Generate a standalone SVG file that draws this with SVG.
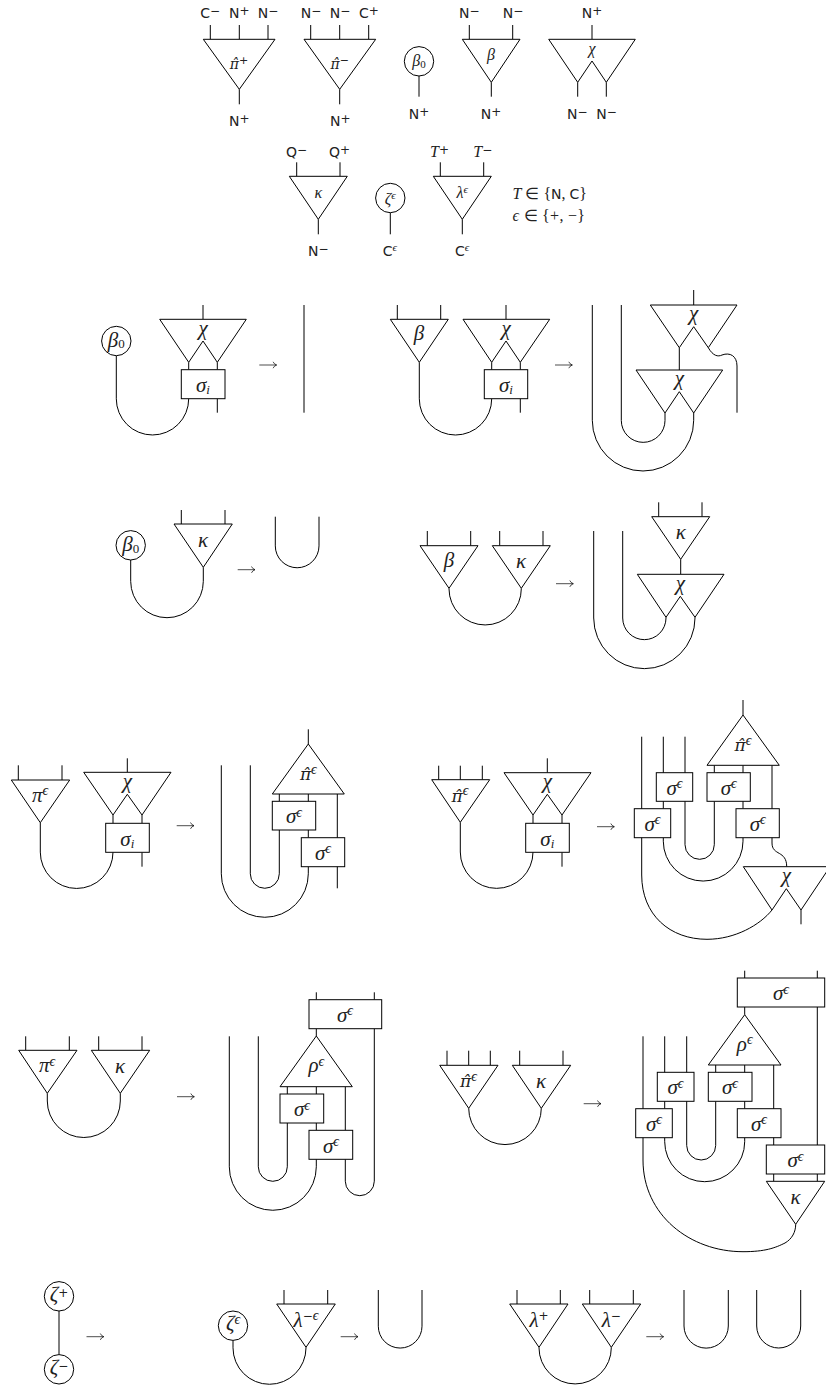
<svg xmlns="http://www.w3.org/2000/svg" width="826" height="1392" viewBox="0 0 826 1392">
<style>
.w{fill:none;stroke:#000;stroke-width:1}
.n{fill:#fff;stroke:#000;stroke-width:1;stroke-linejoin:miter}
.ar{fill:none;stroke:#000;stroke-width:.7}
text{fill:#222}
.s{font-family:"DejaVu Sans",sans-serif;font-size:14px}
.s tspan{font-size:12px}
.s tspan.e{font-family:"Liberation Serif",serif;font-style:italic;font-size:11px}
.m{font-family:"Liberation Serif",serif;font-size:21px;font-style:italic;text-anchor:middle}
.k{font-family:"Liberation Serif",serif;font-size:16px;font-style:italic;text-anchor:middle}
.r{font-family:"Liberation Serif",serif;font-size:16px}
.p{font-family:"DejaVu Sans",sans-serif;font-style:normal;font-size:12px}
.e{font-size:14px}
.b{font-size:13px}
.z{font-style:normal;font-size:13px}
.k .p{font-size:11px}
.k .e{font-size:11px}
.k .z{font-size:11px}
.m .h{font-family:"DejaVu Serif",serif;font-size:17px}
.k .h{font-family:"DejaVu Serif",serif;font-size:14px}
.u{font-family:"DejaVu Sans",sans-serif;font-style:normal}
</style>
<defs><g id="arr" class="ar"><path d="M0 0H17.3M13.8 -3.2Q14.6 -1 17.3 0Q14.6 1 13.8 3.2"/></g></defs>
<g id="connectors" class="w">
<path d="M210.3 25V39.3M239.3 25V39.3M268 25V39.3M239.3 89.3V104.3"/>
<path d="M310.7 25V39.3M339.7 25V39.3M368.7 25V39.3M339.7 89.3V104.3"/>
<path d="M419 76V96.7"/>
<path d="M469.3 25V39.3M512.7 25V39.3M491.3 82.3V96.7"/>
<path d="M592 25V39.3M577.7 82.3V96.7M606.3 82.3V96.7"/>
<path d="M296.7 162.3V176.3M340 162.3V176.3M318.3 219.3V234.3"/>
<path d="M390.3 212.7V234.3"/>
<path d="M440.3 162.3V176.3M483.7 162.3V176.3M462.3 219.3V234.3"/>

<path d="M203 305V319.3M188.7 362.3V369.7M217.3 362.3V369.7M217.3 398.7V412.7"/>
<path d="M116.3 355.7V398.8A36.2 36.2 0 0 0 188.7 398.8"/>
<path d="M304 305V412.7"/>
<path d="M397.3 305V319.3M440.7 305V319.3M506 305V319.3M491.7 362.3V369.7M520.3 362.3V369.7M520.3 398.7V412.7"/>
<path d="M419.3 362.3V398.8A36.2 36.2 0 0 0 491.7 398.8"/>
<path d="M693.7 290V305M679.3 347.7V370"/>
<path d="M708.3 347.7C713 356 718 357 722 355C730 352 737 356 737 366V412.7"/>
<path d="M621.3 305V420.5A21.85 21.85 0 0 0 665 420.5V413"/>
<path d="M592.3 305V420.3A50.7 50.7 0 0 0 693.7 420.3V413"/>

<path d="M181.3 510V524M225 510V524"/>
<path d="M130.7 560V581.4A36.3 36.3 0 0 0 203.3 581.4V567.3"/>
<path d="M275.3 516.7V545.9A21.85 21.85 0 0 0 319 545.9V516.7"/>
<path d="M427.3 531V545.7M470.7 531V545.7M499.7 531V545.7M543 531V545.7"/>
<path d="M449 588.3V588.8A36.15 36.15 0 0 0 521.3 588.8V588.3"/>
<path d="M658.7 502.3V516.7M702 502.3V516.7M680.7 559.3V574.3"/>
<path d="M622.7 531V618A21.65 21.65 0 0 0 666 618V617.3"/>
<path d="M593.7 531V618A50.65 50.65 0 0 0 695 618V617.3"/>

<path d="M18.3 765.3V780M62 765.3V780M127.3 758.3V772.3M113 815V823.3M142 815V823.3M142 852.3V866.7"/>
<path d="M40.3 822.7V852.1A36.35 36.35 0 0 0 113 852.1"/>
<path d="M308.3 729.3V744M279.3 794V801.3M308.3 794V837.7M337.3 794V888.3"/>
<path d="M250.3 765.3V873.8A14.5 14.5 0 0 0 279.3 873.8V830"/>
<path d="M221.3 765.3V873.8A43.5 43.5 0 0 0 308.3 873.8V866.7"/>

<path d="M438.7 765.7V779.7M460.3 765.7V779.7M482.3 765.7V779.7M547.3 758.3V772.7M533 815V823.3M562 815V823.3M562 852.3V866.7"/>
<path d="M460.3 822.3V852A36.35 36.35 0 0 0 533 852"/>
<path d="M743 700V715M714.3 765.3V772.7M743 765.3V808.7M772 765.3V838"/>
<path d="M663.3 736.7V808.7M685 736.7V844.7A14.65 14.65 0 0 0 714.3 844.7V801.3"/>
<path d="M663.3 837.7V841.2A39.85 39.85 0 0 0 743 841.2V837.7"/>
<path d="M641.7 736.7V875C641.7 915 670 939.3 707 939.3C735 939.3 760 925 772 910"/>
<path d="M772 838V843C772 856 786.7 850 786.7 866.7"/>
<path d="M801 910V924.3"/>

<path d="M25.7 1036.3V1050.3M69.3 1036.3V1050.3M98.7 1036.3V1050.3M142 1036.3V1050.3"/>
<path d="M47.3 1093.3V1101A36.5 36.5 0 0 0 120.3 1101V1093.3"/>
<path d="M316.3 992.3V999.7M374.3 992.3V999.7M316.3 1028.7V1036M287.3 1086.7V1094M316.3 1086.7V1130.3M345.3 1086.7V1130.3"/>
<path d="M258.3 1036.3V1166.8A14.5 14.5 0 0 0 287.3 1166.8V1123"/>
<path d="M229.3 1036.3V1166.8A43.5 43.5 0 0 0 316.3 1166.8V1159.3"/>
<path d="M345.3 1159.3V1181.2A14.5 14.5 0 0 0 374.3 1181.2V1028.7"/>

<path d="M447 1050.7V1065.3M468.7 1050.7V1065.3M490.3 1050.7V1065.3M519.7 1050.7V1065.3M563 1050.7V1065.3"/>
<path d="M468.7 1108.3A36.3 36.3 0 0 0 541.3 1108.3"/>
<path d="M744.7 970.7V978M817.3 970.7V978M817.3 1007V1145M744.7 1007V1014.7M715.7 1065V1072.3M744.7 1065V1108.7M773.7 1065V1145"/>
<path d="M664.7 1036.3V1108.7M686.7 1036.3V1145.5A14.5 14.5 0 0 0 715.7 1145.5V1101.3"/>
<path d="M664.7 1137.7V1141.7A40 40 0 0 0 744.7 1141.7V1137.7"/>
<path d="M643 1036.3V1160C643 1215 690 1251.7 743 1251.7C765 1251.7 775 1248 785 1243C792 1239 795.7 1232 795.7 1224.3"/>
<path d="M773.7 1174V1181.3M817.3 1174V1181.3"/>

<path d="M59 1311V1354.6"/>
<path d="M233 1340.4V1347.8A36.5 36.5 0 0 0 306 1347.8V1347.3"/>
<path d="M284 1290V1304M327.7 1290V1304"/>
<path d="M378.3 1290V1326.2A21.85 21.85 0 0 0 422 1326.2V1290"/>
<path d="M517 1290V1304M560.3 1290V1304M589.7 1290V1304M633.3 1290V1304"/>
<path d="M539 1347.3V1347.8A36.15 36.15 0 0 0 611.3 1347.8V1347.3"/>
<path d="M684 1290V1326A22.15 22.15 0 0 0 728.3 1326V1290"/>
<path d="M756.7 1290V1326A22 22 0 0 0 800.7 1326V1290"/>
</g>

<g id="rewrite-arrows">
<use href="#arr" x="259.3" y="365"/><use href="#arr" x="555" y="365"/>
<use href="#arr" x="237.7" y="569.7"/><use href="#arr" x="556" y="583.7"/>
<use href="#arr" x="176.7" y="825.7"/><use href="#arr" x="597" y="826.7"/>
<use href="#arr" x="177" y="1096.7"/><use href="#arr" x="583.7" y="1103.7"/>
<use href="#arr" x="86.5" y="1336.7"/><use href="#arr" x="340.7" y="1336.7"/><use href="#arr" x="646.3" y="1336.7"/>
</g>

<g id="legend-labels">
<text class="s" x="200.3" y="18">C<tspan dy="-3">−</tspan></text>
<text class="s" x="229" y="18">N<tspan dy="-3">+</tspan></text>
<text class="s" x="257.7" y="18">N<tspan dy="-3">−</tspan></text>
<text class="s" x="300.7" y="18">N<tspan dy="-3">−</tspan></text>
<text class="s" x="329.7" y="18">N<tspan dy="-3">−</tspan></text>
<text class="s" x="359" y="18">C<tspan dy="-3">+</tspan></text>
<text class="s" x="459" y="18">N<tspan dy="-3">−</tspan></text>
<text class="s" x="502.7" y="18">N<tspan dy="-3">−</tspan></text>
<text class="s" x="581.7" y="18">N<tspan dy="-3">+</tspan></text>
<text class="s" x="229" y="126">N<tspan dy="-3">+</tspan></text>
<text class="s" x="330" y="126">N<tspan dy="-3">+</tspan></text>
<text class="s" x="408.7" y="119">N<tspan dy="-3">+</tspan></text>
<text class="s" x="480.7" y="119">N<tspan dy="-3">+</tspan></text>
<text class="s" x="567" y="119">N<tspan dy="-3">−</tspan></text>
<text class="s" x="596.3" y="119">N<tspan dy="-3">−</tspan></text>
<text class="s" x="286" y="156.5">Q<tspan dy="-3">−</tspan></text>
<text class="s" x="329" y="156.5">Q<tspan dy="-3">+</tspan></text>
<text class="r" font-style="italic" x="430" y="156.5">T<tspan class="p" dy="-3">+</tspan></text>
<text class="r" font-style="italic" x="473.3" y="156.5">T<tspan class="p" dy="-3">−</tspan></text>
<text class="s" x="308" y="256">N<tspan dy="-3">−</tspan></text>
<text class="s" x="382.7" y="256">C<tspan class="e" dy="-5">ϵ</tspan></text>
<text class="s" x="455" y="256">C<tspan class="e" dy="-5">ϵ</tspan></text>
<text class="r" x="512.5" y="198.5" textLength="74.5"><tspan font-style="italic">T</tspan> ∈ {<tspan class="u" font-size="14">N</tspan>, <tspan class="u" font-size="14">C</tspan>}</text>
<text class="r" x="512.5" y="221" textLength="72.5"><tspan font-style="italic">ϵ</tspan> ∈ {+, −}</text>
</g>

<g id="pi-plus"><path class="n" d="M203.3 39.3H275L239.3 89.3Z"/><text class="k" x="239" y="69"><tspan class="h">π̂</tspan><tspan class="p" dy="-5">+</tspan></text></g>
<g id="pi-minus"><path class="n" d="M304 39.3H375.7L339.7 89.3Z"/><text class="k" x="339.7" y="69"><tspan class="h">π̂</tspan><tspan class="p" dy="-5">−</tspan></text></g>
<g id="beta0"><circle class="n" cx="419" cy="61.3" r="14.7"/><text class="k" x="419" y="66">β<tspan class="z" dy="2">0</tspan></text></g>
<g id="beta"><path class="n" d="M462.3 39.3H520L491.3 82.3Z"/><text class="k" x="491" y="60">β</text></g>
<g id="chi"><path class="n" d="M548.7 39.3H635.3L606.3 82.3L592 61L577.7 82.3Z"/><text class="k" x="592" y="54">χ</text></g>
<g id="kappa"><path class="n" d="M289.3 176.3H347.3L318.3 219.3Z"/><text class="k" x="318.3" y="198">κ</text></g>
<g id="zeta"><circle class="n" cx="390.3" cy="198" r="14.7"/><text class="k" x="390.3" y="203.5">ζ<tspan class="e" dy="-5">ϵ</tspan></text></g>
<g id="lambda"><path class="n" d="M433.3 176.3H491.3L462.3 219.3Z"/><text class="k" x="462.3" y="198">λ<tspan class="e" dy="-5">ϵ</tspan></text></g>

<g id="a1-beta0"><circle class="n" cx="116.3" cy="341" r="14.7"/><text class="m" x="116.3" y="346.5">β<tspan class="z" dy="1.5">0</tspan></text></g>
<g id="a1-chi"><path class="n" d="M159.7 319.3H246.3L217.3 362.3L203 341L188.7 362.3Z"/><text class="m" x="203" y="334.5">χ</text></g>
<g id="a1-sigma"><rect class="n" x="181.3" y="369.7" width="43.7" height="29"/><text class="m" x="203" y="392">σ<tspan class="b" dy="2">i</tspan></text></g>

<g id="a2-beta"><path class="n" d="M390.3 319.3H448.3L419.3 362.3Z"/><text class="m" x="419" y="340">β</text></g>
<g id="a2-chi"><path class="n" d="M463 319.3H549.7L520.3 362.3L506 341L491.7 362.3Z"/><text class="m" x="506" y="334.5">χ</text></g>
<g id="a2-sigma"><rect class="n" x="484.3" y="369.7" width="43.4" height="29"/><text class="m" x="506" y="392">σ<tspan class="b" dy="2">i</tspan></text></g>
<g id="a2-chi-top"><path class="n" d="M650.3 305H737L708.3 347.7L693.7 326.7L679.3 347.7Z"/><text class="m" x="693.7" y="320">χ</text></g>
<g id="a2-chi-low"><path class="n" d="M636 370H722.7L693.7 413L679.3 391.7L665 413Z"/><text class="m" x="679.3" y="385">χ</text></g>

<g id="b1-beta0"><circle class="n" cx="130.7" cy="545.3" r="14.7"/><text class="m" x="130.7" y="551">β<tspan class="z" dy="1.5">0</tspan></text></g>
<g id="b1-kappa"><path class="n" d="M174 524H232.3L203.3 567.3Z"/><text class="m" x="203" y="546.5">κ</text></g>
<g id="b2-beta"><path class="n" d="M420 545.7H478L449 588.3Z"/><text class="m" x="449" y="567">β</text></g>
<g id="b2-kappa"><path class="n" d="M492.3 545.7H550.3L521.3 588.3Z"/><text class="m" x="521" y="568">κ</text></g>
<g id="b2-kappa-top"><path class="n" d="M651.7 516.7H709.7L680.7 559.3Z"/><text class="m" x="680.7" y="539">κ</text></g>
<g id="b2-chi"><path class="n" d="M637.3 574.3H724L695 617.3L680.3 596.3L666 617.3Z"/><text class="m" x="680.3" y="589.5">χ</text></g>

<g id="c1-pi"><path class="n" d="M11.3 780H69.7L40.3 822.7Z"/><text class="m" x="40" y="801.5">π<tspan class="e" dy="-6.5">ϵ</tspan></text></g>
<g id="c1-chi"><path class="n" d="M83.7 772.3H171L142 815L127.3 794.3L113 815Z"/><text class="m" x="127.3" y="787.5">χ</text></g>
<g id="c1-sigma"><rect class="n" x="105.7" y="823.3" width="43.6" height="29"/><text class="m" x="127.3" y="845.5">σ<tspan class="b" dy="2">i</tspan></text></g>
<g id="c2-pi"><path class="n" d="M308.3 744L344.3 794H272.3Z"/><text class="m" x="308.3" y="780"><tspan class="h">π̂</tspan><tspan class="e" dy="-6.5">ϵ</tspan></text></g>
<g id="c2-s1"><rect class="n" x="272.3" y="801.3" width="43.4" height="28.7"/><text class="m" x="294" y="823">σ<tspan class="e" dy="-6.5">ϵ</tspan></text></g>
<g id="c2-s2"><rect class="n" x="301.3" y="837.7" width="43.4" height="29"/><text class="m" x="323" y="859.5">σ<tspan class="e" dy="-6.5">ϵ</tspan></text></g>

<g id="d1-pi"><path class="n" d="M431.7 779.7H489.7L460.3 822.3Z"/><text class="m" x="460" y="801.5"><tspan class="h">π̂</tspan><tspan class="e" dy="-6.5">ϵ</tspan></text></g>
<g id="d1-chi"><path class="n" d="M504 772.7H591L562 815L547.3 794.3L533 815Z"/><text class="m" x="547.3" y="788">χ</text></g>
<g id="d1-sigma"><rect class="n" x="525.7" y="823.3" width="43.6" height="29"/><text class="m" x="547.3" y="845.5">σ<tspan class="b" dy="2">i</tspan></text></g>
<g id="d2-pi"><path class="n" d="M743 715L779.3 765.3H707Z"/><text class="m" x="743" y="751"><tspan class="h">π̂</tspan><tspan class="e" dy="-6.5">ϵ</tspan></text></g>
<g id="d2-a"><rect class="n" x="656.3" y="772.7" width="36.4" height="28.6"/><text class="m" x="674.5" y="794.5">σ<tspan class="e" dy="-6.5">ϵ</tspan></text></g>
<g id="d2-b"><rect class="n" x="707" y="772.7" width="43.3" height="28.6"/><text class="m" x="728.7" y="794.5">σ<tspan class="e" dy="-6.5">ϵ</tspan></text></g>
<g id="d2-c"><rect class="n" x="634.3" y="808.7" width="36.4" height="29"/><text class="m" x="652.5" y="830.5">σ<tspan class="e" dy="-6.5">ϵ</tspan></text></g>
<g id="d2-d"><rect class="n" x="736" y="808.7" width="43.3" height="29"/><text class="m" x="757.7" y="830.5">σ<tspan class="e" dy="-6.5">ϵ</tspan></text></g>
<g id="d2-chi"><path class="n" d="M743.3 866.7H830L801 910L786.3 888.7L772 910Z"/><text class="m" x="786.3" y="882">χ</text></g>

<g id="e1-pi"><path class="n" d="M18.7 1050.3H77L47.3 1093.3Z"/><text class="m" x="47" y="1072">π<tspan class="e" dy="-6.5">ϵ</tspan></text></g>
<g id="e1-kappa"><path class="n" d="M91.3 1050.3H149.7L120.3 1093.3Z"/><text class="m" x="120" y="1072.5">κ</text></g>
<g id="e2-top"><rect class="n" x="309" y="999.7" width="72.7" height="29"/><text class="m" x="345" y="1021.5">σ<tspan class="e" dy="-6.5">ϵ</tspan></text></g>
<g id="e2-rho"><path class="n" d="M316.3 1036L352.3 1086.7H280Z"/><text class="m" x="316.3" y="1072">ρ<tspan class="e" dy="-6.5">ϵ</tspan></text></g>
<g id="e2-s1"><rect class="n" x="280" y="1094" width="43.7" height="29"/><text class="m" x="302" y="1116">σ<tspan class="e" dy="-6.5">ϵ</tspan></text></g>
<g id="e2-s2"><rect class="n" x="309" y="1130.3" width="43.7" height="29"/><text class="m" x="331" y="1152.5">σ<tspan class="e" dy="-6.5">ϵ</tspan></text></g>

<g id="f1-pi"><path class="n" d="M439.7 1065.3H498L468.7 1108.3Z"/><text class="m" x="468.5" y="1087"><tspan class="h">π̂</tspan><tspan class="e" dy="-6.5">ϵ</tspan></text></g>
<g id="f1-kappa"><path class="n" d="M512.3 1065.3H570.7L541.3 1108.3Z"/><text class="m" x="541" y="1087.5">κ</text></g>
<g id="f2-top"><rect class="n" x="737.3" y="978" width="87.4" height="29"/><text class="m" x="781" y="1000">σ<tspan class="e" dy="-6.5">ϵ</tspan></text></g>
<g id="f2-rho"><path class="n" d="M744.7 1014.7L781 1065H708.3Z"/><text class="m" x="744.7" y="1050.5">ρ<tspan class="e" dy="-6.5">ϵ</tspan></text></g>
<g id="f2-a"><rect class="n" x="657.3" y="1072.3" width="36.7" height="29"/><text class="m" x="675.5" y="1094">σ<tspan class="e" dy="-6.5">ϵ</tspan></text></g>
<g id="f2-b"><rect class="n" x="708.3" y="1072.3" width="43.7" height="29"/><text class="m" x="730" y="1094">σ<tspan class="e" dy="-6.5">ϵ</tspan></text></g>
<g id="f2-c"><rect class="n" x="635.7" y="1108.7" width="36.6" height="29"/><text class="m" x="654" y="1130.5">σ<tspan class="e" dy="-6.5">ϵ</tspan></text></g>
<g id="f2-d"><rect class="n" x="737.3" y="1108.7" width="43.7" height="29"/><text class="m" x="759" y="1130.5">σ<tspan class="e" dy="-6.5">ϵ</tspan></text></g>
<g id="f2-e"><rect class="n" x="766.3" y="1145" width="58.4" height="29"/><text class="m" x="795.5" y="1167">σ<tspan class="e" dy="-6.5">ϵ</tspan></text></g>
<g id="f2-kappa"><path class="n" d="M766.3 1181.3H824.7L795.7 1224.3Z"/><text class="m" x="795.5" y="1203.5">κ</text></g>

<g id="g1-zp"><circle class="n" cx="59" cy="1296.3" r="14.7"/><text class="m" x="59" y="1300.5">ζ<tspan class="p" dy="-4">+</tspan></text></g>
<g id="g1-zm"><circle class="n" cx="59" cy="1369.3" r="14.7"/><text class="m" x="59" y="1373.5">ζ<tspan class="p" dy="-4">−</tspan></text></g>
<g id="g2-z"><circle class="n" cx="233" cy="1325.7" r="14.7"/><text class="m" x="233" y="1330">ζ<tspan class="e" dy="-6.5">ϵ</tspan></text></g>
<g id="g2-l"><path class="n" d="M276.7 1304H335.3L306 1347.3Z"/><text class="m" x="306" y="1326.5">λ<tspan class="p" dy="-6.5">−</tspan><tspan class="e">ϵ</tspan></text></g>
<g id="g3-lp"><path class="n" d="M509.7 1304H568L539 1347.3Z"/><text class="m" x="539" y="1326.5">λ<tspan class="p" dy="-6.5">+</tspan></text></g>
<g id="g3-lm"><path class="n" d="M582.3 1304H640.7L611.3 1347.3Z"/><text class="m" x="611.3" y="1326.5">λ<tspan class="p" dy="-6.5">−</tspan></text></g>
</svg>
